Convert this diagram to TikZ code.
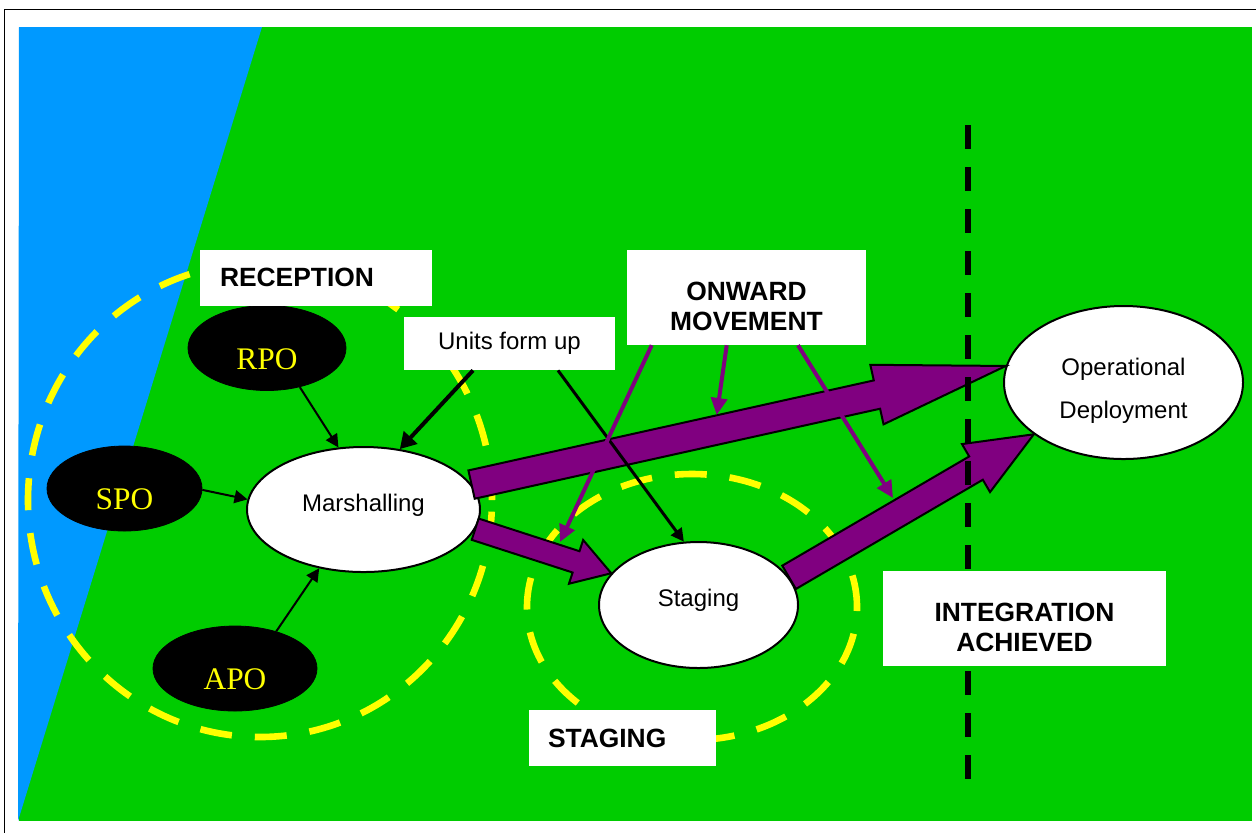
\documentclass[tikz,border=0pt]{standalone}
\usepackage{fontspec}
\setmainfont{Liberation Sans}
\newfontfamily\timesfont{Liberation Serif}
\usetikzlibrary{calc,arrows.meta,shapes.geometric}
\definecolor{fieldgreen}{HTML}{00CC00}
\definecolor{seablue}{HTML}{0099FF}
\definecolor{movepurple}{HTML}{800080}
\definecolor{ringyellow}{HTML}{FFFF00}
% block arrow: from, to, half shaft, half head, head length
\newcommand\blockarrow[5]{%
  \draw [bigarrow] ($(#1)!#3!90:(#2)$) -- ($(#2)!#5!(#1)!#3!90:(#2)$)
     -- ($(#2)!#5!(#1)!#4!90:(#2)$) -- (#2)
     -- ($(#2)!#5!(#1)!#4!-90:(#2)$) -- ($(#2)!#5!(#1)!#3!-90:(#2)$)
     -- ($(#1)!#3!-90:(#2)$) -- cycle;}

\begin{document}
\begin{tikzpicture}[x=0.5pt,y=-0.5pt,every node/.style={inner sep=0pt},
   post/.style={draw=black,fill=black,text=ringyellow,ellipse,minimum height=42.5pt,
      font=\timesfont\fontsize{15.7}{18}\selectfont,text height=21.4pt,text depth=0pt},
   phase/.style={draw=black,line width=1pt,fill=white,ellipse,font=\fontsize{12}{14}\selectfont},
   tag/.style={fill=white,font=\fontsize{13.2}{15}\selectfont\bfseries,align=center},
   ring/.style={ringyellow,line width=3.3pt,dash pattern=on 16pt off 11.5pt},
   bigarrow/.style={draw=black,line width=1pt,fill=movepurple},
   feed/.style={line width=1pt,-{Triangle[length=6.5pt,width=6.5pt]}},
   order/.style={movepurple,line width=2pt,-{Triangle[length=8.5pt,width=8pt]}}]
   % Page and frame
   \useasboundingbox (0,0) rectangle (1256,832);
   \clip (0,0) rectangle (1256,832);
   \fill [white] (0,0) rectangle (1256,832);
   \draw [line width=0.75pt] (4.5,9.5) rectangle (1300,880);
   % Land and sea
   \fill [fieldgreen] (19,27) rectangle (1252,821);
   \fill [seablue] (19,27) -- (262,27) -- (18,821) -- cycle;
   % Phase rings
   \draw [ring] (260,500) ellipse [x radius=116pt,y radius=118.5pt];
   \draw [ring] (692,607) ellipse [x radius=82.5pt,y radius=66.5pt];
   % Ports
   \node [post,minimum width=79pt] (rpo) at (267,348) {RPO};
   \node [post,minimum width=77.5pt] (spo) at (124.5,488.5) {SPO};
   \node [post,minimum width=82pt] (apo) at (235,668.5) {APO};
   % Phases
   \node [phase,minimum width=116.5pt,minimum height=62.5pt,text height=8.8pt,text depth=7pt] (marsh) at (363.5,509.5) {Marshalling};
   \node [phase,minimum width=99.5pt,minimum height=63pt,text height=8.8pt,text depth=7pt] (staging) at (698.5,605) {Staging};
   \node [phase,minimum width=119.5pt,minimum height=76.5pt,align=center,font=\fontsize{12}{21.5}\selectfont] (opdep) at (1123.5,382.5) {\rule{0pt}{16.8pt}Operational\\Deployment};
   % Movement
   \blockarrow{marsh.13}{opdep.172}{7.25pt}{15.25pt}{66pt}
   \blockarrow{marsh.-10}{staging.160}{5.6pt}{11.5pt}{18.5pt}
   \blockarrow{staging.17}{opdep.-150}{6.75pt}{13.9pt}{33.5pt}
   % Integration line
   \draw [line width=3pt,dash pattern=on 12pt off 9pt] (968,125) -- (968,780);
   % Labels
   \node [tag,minimum width=116pt,minimum height=27.8pt,text width=96pt,inner xsep=10pt,align=left] (reception) at (316,277.8) {RECEPTION};
   \node [fill=white,minimum width=105.5pt,minimum height=26.5pt,font=\fontsize{12}{14}\selectfont] (units) at (509.5,343.5) {Units form up};
   \node [tag,minimum width=119.5pt,minimum height=47.4pt] (onward) at (746.5,297.4) {\rule{0pt}{18.6pt}ONWARD\\MOVEMENT};
   \node [tag,minimum width=141.5pt,minimum height=47.5pt] (integration) at (1024.5,618.5) {\rule{0pt}{17.8pt}INTEGRATION\\ACHIEVED};
   \node [tag,minimum width=93.5pt,minimum height=28pt,text width=74.5pt,inner xsep=9.5pt,align=left] (stagetag) at (622.5,738) {STAGING};
   % Onward movement targets
   \coordinate (onA) at (560,542);
   \coordinate (onB) at (716.7,415);
   \coordinate (onC) at (893,498);
   % Arrows
   \draw [feed] (rpo.-50) -- (marsh.112);
   \draw [feed] (spo.-1) -- (marsh.175);
   \draw [feed] (apo.42) -- (marsh.-127);
   \draw [feed,line width=2pt,-{Triangle[length=8pt,width=9pt]}] ($(units.south)+(-36.5,0)$) -- (marsh.59);
   \draw [feed,line width=1.5pt] ($(units.south)+(48.5,0)$) -- (staging.103);
   \draw [order] ($(onward.south)+(-94.8,0)$) -- (onA);
   \draw [order] ($(onward.south)+(-19.8,0)$) -- (onB);
   \draw [order] ($(onward.south)+(51.5,0)$) -- (onC);
\end{tikzpicture}
\end{document}
